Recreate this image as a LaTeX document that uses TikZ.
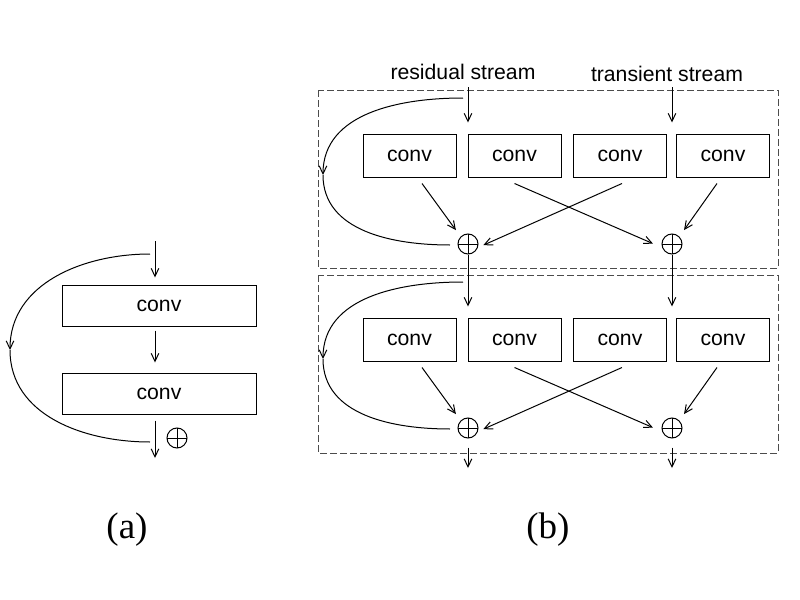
\documentclass[tikz,border=0pt]{standalone}
\usepackage{fontspec}
\setmainfont{Liberation Serif}
\setsansfont{Liberation Sans}
\usetikzlibrary{arrows.meta}
\tikzset{
	conv/.style={draw, minimum width=46.5pt, minimum height=21.5pt, inner sep=0pt, font=\sffamily\fontsize{10.6}{12}\selectfont},
	plus/.style={draw, circle, minimum size=10pt, inner sep=0pt, path picture={\draw (path picture bounding box.north) -- (path picture bounding box.south) (path picture bounding box.west) -- (path picture bounding box.east);}},
	arr/.style={-{Straight Barb[length=4pt,width=3.8pt]}},
	dashbox/.style={draw=black!70, dash pattern=on 3.5pt off 1.5pt},
	lbl/.style={font=\sffamily\fontsize{10.6}{12}\selectfont},
	sublbl/.style={font=\fontsize{18.5}{22}\selectfont}
}
\begin{document}
\begin{tikzpicture}[x=0.5pt, y=-0.5pt, line width=0.5pt]
		\useasboundingbox (0,0) rectangle (800,600);
		\node[conv, minimum width=97pt, minimum height=20.5pt] (convA1) at (159,305.5) {conv};
		\node[conv, minimum width=97pt, minimum height=20.5pt] (convA2) at (159,393.5) {conv};
		\node[plus] (plusA) at (177,438) {};
		\coordinate (inA) at (155,241);
		\coordinate (outA) at (155,458);
		\draw[arr, shorten >=3.5pt] (inA) -- (inA |- convA1.north);
		\draw[arr, shorten <=2pt, shorten >=5pt] (inA |- convA1.south) -- (inA |- convA2.north);
		\draw[arr, shorten <=3pt] (inA |- convA2.south) -- (outA);
		\coordinate (ca1) at (150,254);
		\coordinate (ca2) at (10,350);
		\coordinate (ca3) at (150,442);
		\draw[arr] (ca1) to[out=180,in=90] (ca2);
		\draw (ca2) to[out=-90,in=180] (ca3);
		\node[sublbl] (la) at (127,530) {(a)};
		\draw[dashbox] (318,90) rectangle (778,268);
		\draw[dashbox] (318,275) rectangle (778,453);
		\node[lbl] (res) at (463,72) {residual stream};
		\node[lbl] (tra) at (667,74) {transient stream};
		\coordinate (r0) at (468,87);
		\coordinate (t0) at (672,87);
		\node[conv] (conv11) at (409.5,155.5) {conv};
		\node[conv] (conv12) at (514.5,155.5) {conv};
		\node[conv] (conv13) at (620,155.5) {conv};
		\node[conv] (conv14) at (723,155.5) {conv};
		\node[plus] (plus11) at (468,244) {};
		\node[plus] (plus12) at (672,244) {};
		\node[conv] (conv21) at (409.5,339.5) {conv};
		\node[conv] (conv22) at (514.5,339.5) {conv};
		\node[conv] (conv23) at (620,339.5) {conv};
		\node[conv] (conv24) at (723,339.5) {conv};
		\node[plus] (plus21) at (468,428) {};
		\node[plus] (plus22) at (672,428) {};
		\coordinate (out1) at (468,468);
		\coordinate (out2) at (672,468);
		\draw[arr, shorten >=5.5pt] (r0) -- (r0 |- conv11.north);
		\draw[arr, shorten >=5.5pt] (t0) -- (t0 |- conv14.north);
		\draw[arr, shorten >=4pt] ([shift={(12.5,6)}]conv11.south) -- (plus11.north west);
		\draw[arr, shorten >=5pt] ([shift={(0,6)}]conv12.south) -- (plus12.200);
		\draw[arr, shorten >=3pt] ([shift={(2,6)}]conv13.south) -- (plus11.-20);
		\draw[arr, shorten >=4pt] ([shift={(-6,6)}]conv14.south) -- (plus12.north east);
		\draw[arr] (463,98) to[out=180,in=90] (323,175);
		\draw (323,175) to[out=-90,in=180] (450,245);
		\draw[arr, shorten >=5.5pt] (plus11.south) -- (plus11 |- conv21.north);
		\draw[arr, shorten >=5.5pt] (plus12.south) -- (plus12 |- conv24.north);
		\draw[arr, shorten >=4pt] ([shift={(12.5,6)}]conv21.south) -- (plus21.north west);
		\draw[arr, shorten >=5pt] ([shift={(0,6)}]conv22.south) -- (plus22.200);
		\draw[arr, shorten >=3pt] ([shift={(2,6)}]conv23.south) -- (plus21.-20);
		\draw[arr, shorten >=4pt] ([shift={(-6,6)}]conv24.south) -- (plus22.north east);
		\draw[arr] (463,282) to[out=180,in=90] (323,359);
		\draw (323,359) to[out=-90,in=180] (450,429);
		\draw[arr] ([yshift=-4.5pt]plus21.south) -- (out1);
		\draw[arr] ([yshift=-4.5pt]plus22.south) -- (out2);
		\node[sublbl] (lb) at (548,530) {(b)};
	\end{tikzpicture}
\end{document}
